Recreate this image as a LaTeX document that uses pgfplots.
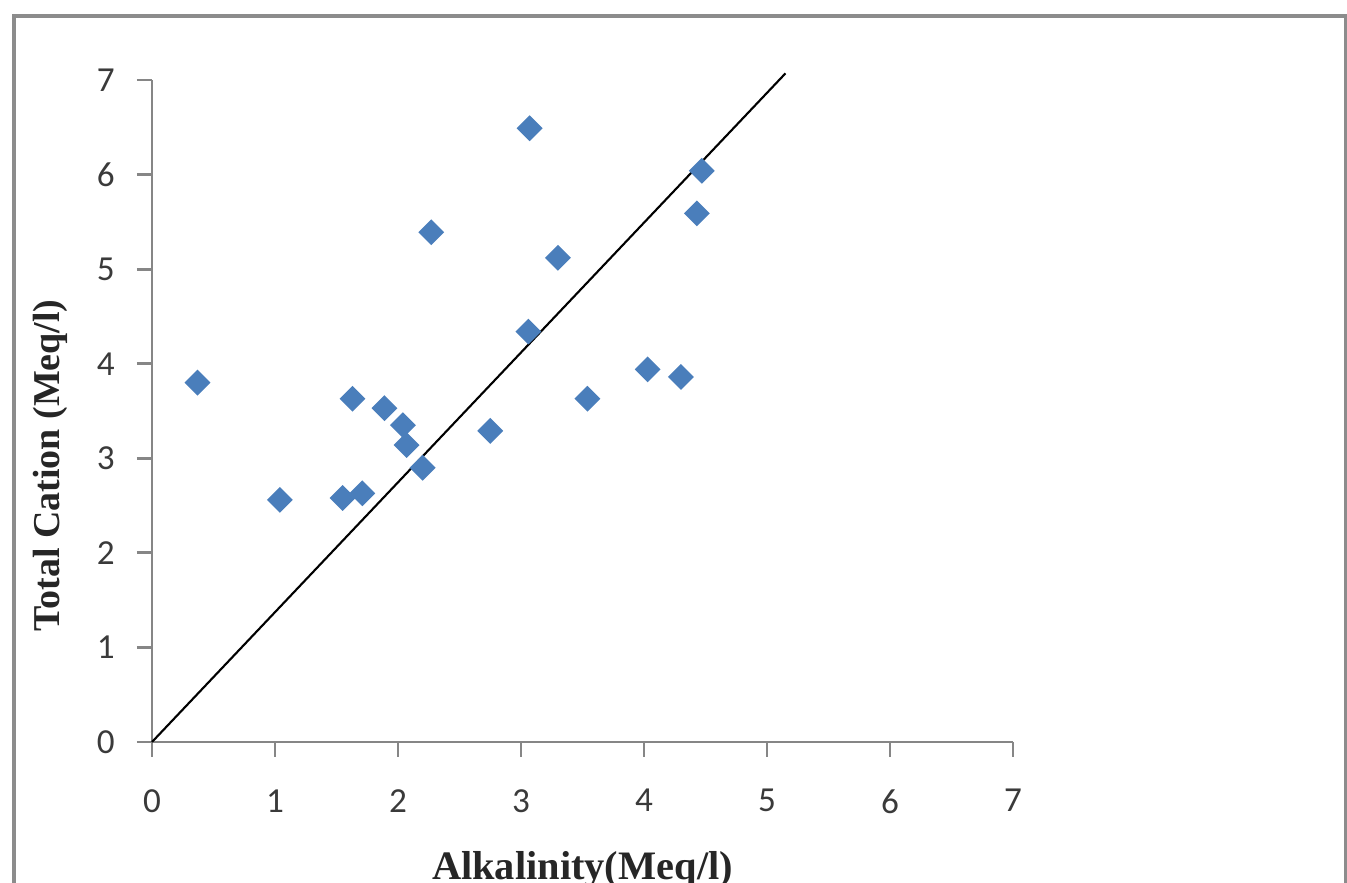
\documentclass[border=0pt]{standalone}
\usepackage{fontspec}
\setmainfont{Liberation Serif}
\newfontfamily\carlito{Carlito}
\usepackage{pgfplots}
\pgfplotsset{compat=1.18}
\definecolor{ptblue}{HTML}{4A7EBB}
\definecolor{axgray}{HTML}{868686}
\definecolor{ticktext}{HTML}{3A3A3A}
\definecolor{framegray}{HTML}{8C8C8C}

\begin{document}
\begin{tikzpicture}
\begin{axis}[
  scale only axis, width=8.61cm, height=6.62cm,
  xmin=0, xmax=7, ymin=0, ymax=7,
  xtick={0,...,7}, ytick={0,...,7},
  axis x line*=bottom, axis y line*=left,
  axis line style={axgray, line width=0.8pt},
  tick style={axgray, line width=0.8pt},
  tick align=outside, major tick length=0.15cm,
  ticklabel style={font=\carlito\fontsize{10}{12}\selectfont, text=ticktext},
  /pgf/number format/assume math mode=true,
  yticklabel style={xshift=-0.1cm},
  xticklabel style={yshift=-0.2cm},
  xlabel={\bfseries Alkalinity(Meq/l)},
  ylabel={\bfseries Total Cation (Meq/l)},
  xlabel style={font=\fontsize{11.5}{13}\selectfont, text=black!85,
    at={(axis description cs:0.5,-0.208)}, anchor=base},
  ylabel style={font=\fontsize{10.8}{13}\selectfont, text=black!85,
    at={(axis description cs:-0.118,0.418)}, anchor=center, rotate=0},
  clip=false,
]
\addplot[black, line width=0.6pt] coordinates {(0,0) (5.15,7.07)};
\addplot[only marks, mark=square*, mark size=2.4pt,
  mark options={rotate=45, fill=ptblue, draw=ptblue}] coordinates {
  (0.37,3.80) (1.04,2.56) (1.55,2.58) (1.71,2.63) (1.63,3.63)
  (1.89,3.53) (2.04,3.35) (2.07,3.14) (2.20,2.90) (2.27,5.39)
  (2.75,3.29) (3.07,6.49) (3.06,4.34) (3.30,5.12) (3.54,3.63)
  (4.03,3.94) (4.30,3.86) (4.43,5.59) (4.47,6.04)
};
\end{axis}
\draw[framegray, line width=1pt] (-1.38,-1.6) -- (-1.38,7.26) -- (11.94,7.26) -- (11.94,-1.6);
\pgfresetboundingbox
\useasboundingbox (-1.52,-1.41) rectangle (11.95,7.42);
\end{tikzpicture}
\end{document}
